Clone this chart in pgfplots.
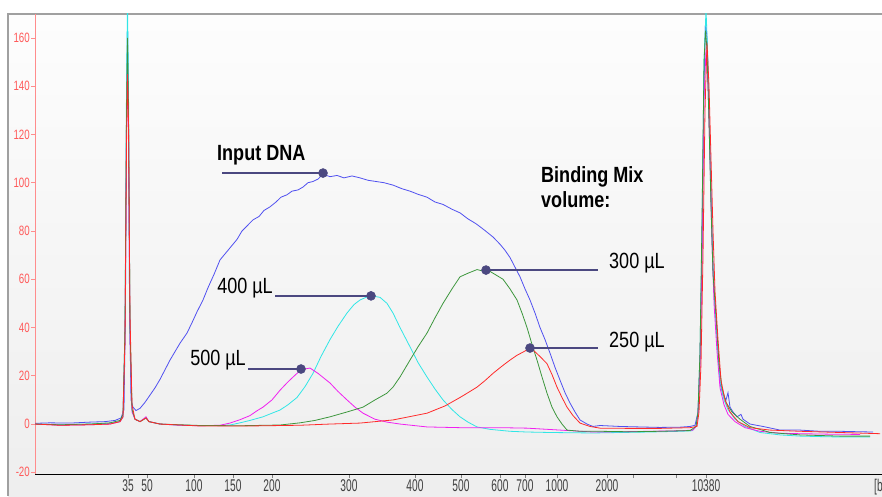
\documentclass[border=0pt]{standalone}
\usepackage{fontspec}
\setmainfont{Liberation Sans}
\usepackage{pgfplots}
\pgfplotsset{compat=1.18}

\definecolor{bgtop}{HTML}{FDFDFD}
\definecolor{bgbot}{HTML}{EEEEEE}
\definecolor{framegray}{HTML}{A0A0A0}
\definecolor{axpink}{HTML}{FF8C8C}
\definecolor{ticklab}{HTML}{FF5A5A}
\definecolor{cblue}{HTML}{5050F0}
\definecolor{ccyan}{HTML}{30E6E6}
\definecolor{cmag}{HTML}{F020F0}
\definecolor{cgreen}{HTML}{3C963C}
\definecolor{cred}{HTML}{FF2A2A}
\definecolor{annot}{HTML}{4B4880}

% x is in pixel position of the bp scale, y in fluorescence units
\newcommand\xl[1]{\scalebox{0.6}[1]{#1}}
\newcommand\yl[1]{\scalebox{0.72}[1]{#1}}
\newcommand\lab[1]{\scalebox{0.82}[1]{\fontsize{22}{22}\selectfont #1}}

\begin{document}
\begin{tikzpicture}[x=1pt,y=1pt]
\useasboundingbox (0,0) rectangle (882,496);
\fill[white] (0,0) rectangle (882,496);
\shade[top color=bgtop, bottom color=bgbot] (8,0) rectangle (882,482);
\draw[framegray, line width=1.6pt] (8,0) -- (8,482) -- (882,482);

\begin{axis}[
    at={(35pt,482pt)}, anchor=north west,
    scale only axis, width=847pt, height=460pt,
    xmin=35, xmax=882, ymin=-20.7, ymax=169.9,
    axis x line*=bottom, axis y line*=left,
    axis line style={-},
    x axis line style={black, line width=0.8pt},
    y axis line style={axpink, line width=0.8pt},
    tick align=outside, major tick length=4pt,
    xtick style={gray, line width=0.6pt},
    ytick style={axpink, line width=0.6pt},
    xtick={128,147,194,233,272,349,415,461,500,525,557,607,633,676,706},
    xticklabels={\xl{35},\xl{50},\xl{100},\xl{150},\xl{200},\xl{300},\xl{400},\xl{500},\xl{600},\xl{700},\xl{1000},\xl{2000},,,\xl{10380}},
    ytick={-20,0,20,40,60,80,100,120,140,160},
    yticklabels={\yl{-20},\yl{0},\yl{20},\yl{40},\yl{60},\yl{80},\yl{100},\yl{120},\yl{140},\yl{160}},
    xticklabel style={font=\fontsize{17}{17}\selectfont, text=darkgray, inner sep=0pt, yshift=-1pt},
    yticklabel style={font=\fontsize{13.5}{13.5}\selectfont, text=ticklab, inner sep=1pt},
    every axis plot/.append style={line width=0.8pt},
]
% Input DNA
\addplot[cblue] coordinates {
(35,0.3) (50,0.5) (70,0.4) (90,0.8) (105,1) (115,1.5) (121,2.5) (124,6) (125.5,50)
(126.5,130) (127.5,166) (128.5,130) (129.5,50) (131,10) (133,7) (136,5.6) (140,6.5)
(145,9) (150,12) (155,15) (160,18.5) (165,22.5) (170,26.5) (175,30) (180,33.5)
(187,37.7) (192,42) (197,46.5) (203,51.4) (208,56.5) (214,62) (220,68) (226,71)
(231,73.5) (237,76.5) (242,80) (248,82.5) (253,84.6) (259,86) (264,88.5) (270,90)
(276,92) (281,94) (287,95) (292,96.5) (298,97) (303,98.2) (308,100) (313,100.5)
(318,101.5) (323,103.5) (330,102.5) (337,103) (344,102) (352,102.8) (360,102)
(368,101) (376,100.5) (384,100) (393,99) (402,97.5) (410,96.5) (418,95.2) (427,94)
(435,92) (443,91) (452,89) (460,87.5) (468,85) (476,83) (484,80.5) (493,77.5)
(500,74.5) (505,72) (510,69) (515,65) (520,61) (525,56) (530,51.4) (535,46)
(540,40) (545,35) (550,29.4) (555,23.5) (560,18.2) (565,13) (570,8.7) (575,5)
(580,1.7) (587,0) (593,-1) (600,-0.6) (620,-1) (640,-1.2) (660,-1.4) (680,-1.3)
(690,-1) (695,-0.5) (698,5) (700,25) (702,70) (704,140) (705.5,167) (707,160)
(709,130) (711,95) (713,65) (715,50) (717,37.7) (720,17) (723,12) (726,10) (728,13)
(730,7) (733,5) (737,3) (741,4) (743,2) (750,0) (763,-1) (780,-2.5) (800,-2.5)
(820,-3) (840,-3) (860,-3.2) (873,-3.3)
};
% 400 uL
\addplot[ccyan] coordinates {
(35,0) (60,-0.3) (90,0) (110,0.3) (120,1) (123,3) (125,40) (126.5,140) (127.5,175)
(128.5,140) (130,40) (132,6) (135,2) (140,1) (146,2.5) (149,1) (160,0) (180,-0.5)
(200,-0.6) (220,-0.6) (230,-0.4) (240,0.5) (250,1.5) (263,3) (272,4.5) (280,5.8)
(288,8) (297,11) (305,15.5) (313,21) (321,28) (330,35) (338,40.5) (347,46)
(354,49.5) (360,51.4) (366,52.5) (373,53) (380,52.5) (387,50) (393,46) (400,40)
(405,36) (410,32) (418,25.5) (427,19.5) (435,14.5) (443,10) (452,6) (460,3)
(468,0.8) (477,-1.2) (490,-2.2) (510,-3) (527,-3.3) (550,-3.5) (570,-3.6)
(593,-3.7) (620,-3.5) (650,-3.3) (680,-3) (692,-2.8) (696,-1) (698,5) (700,30)
(702,80) (704,150) (706,172) (708,150) (710,115) (712,80) (714,55) (717,35)
(720,18) (724,10) (728,6) (735,2) (745,-1) (760,-3.5) (780,-4.5) (800,-5)
(830,-5.3) (870,-5.4)
};
% 500 uL
\addplot[cmag] coordinates {
(35,0) (60,-0.5) (90,-0.3) (110,0) (120,1) (123,3) (125,35) (126.5,120) (127.5,150)
(128.5,120) (130,35) (132,5) (135,2) (140,1) (146,3) (149,1) (160,0) (180,-0.5)
(200,-0.7) (220,-0.5) (230,0.4) (240,1.8) (250,3.5) (257,5.5) (263,7) (272,10)
(280,14) (288,17.5) (297,21) (303,22.7) (310,23.2) (318,21) (324,19) (330,17)
(338,13.5) (347,10) (355,7) (363,4.5) (375,2) (387,0.8) (400,0) (427,-1.2)
(460,-1.5) (500,-1.5) (527,-1.7) (560,-2.5) (593,-3.3) (620,-3.2) (650,-3)
(680,-2.8) (693,-2.5) (696,-1) (698,4) (700,25) (702,70) (704,135) (706,155)
(708,140) (710,110) (712,75) (714,50) (717,30) (720,15) (724,8) (728,4) (735,1)
(745,-1.5) (760,-3) (780,-3.8) (800,-4) (830,-4.2) (860,-4.3)
};
% 300 uL
\addplot[cgreen] coordinates {
(35,0) (60,-0.3) (90,0) (110,0.5) (120,1.5) (123,4) (125,40) (126.5,130) (127.5,160)
(128.5,130) (130,40) (132,6) (135,2) (140,1) (146,2.5) (149,1) (160,0) (200,-0.6)
(240,-0.7) (280,-0.4) (300,0.5) (315,1.5) (330,3) (347,5) (363,7) (375,10)
(387,12.8) (393,15.3) (400,19.5) (410,26.5) (418,32) (427,37.7) (435,44) (443,50)
(452,56) (460,61) (468,62.5) (477,64) (482,63.5) (487,64) (495,62) (503,60)
(510,56) (517,51.4) (522,46) (527,40) (532,33) (537,26.5) (542,19.5) (547,12.8)
(552,7) (557,3) (562,0) (567,-2.5) (580,-3) (600,-3) (630,-3.2) (660,-3)
(690,-2.7) (696,-1) (698,5) (700,30) (702,85) (704,150) (705.5,163) (707,155)
(709,125) (711,90) (713,62) (716,45) (719,25) (722,15) (726,9) (732,5) (740,2)
(750,-1) (770,-3.5) (800,-4.5) (840,-5) (870,-5)
};
% 250 uL
\addplot[cred] coordinates {
(35,0) (60,-0.5) (90,-0.3) (110,0) (120,1) (123,3) (125,35) (126.5,115) (127.5,145)
(128.5,125) (130,45) (132,8) (135,2) (140,1) (146,2.5) (149,1) (160,0) (200,-0.8)
(250,-0.8) (300,-0.5) (330,0) (360,0.4) (393,1.7) (427,4.5) (445,7.5) (460,11)
(468,13) (477,15.3) (485,18) (493,21) (502,24) (510,26.5) (517,28.5) (523,29.8)
(528,31) (533,30.7) (540,28) (547,25) (552,20.5) (557,15.3) (562,11) (567,7)
(573,3.5) (580,0.4) (590,-1) (600,-1.7) (630,-1.8) (660,-1.8) (690,-1.5) (697,-1)
(699,5) (701,25) (703,70) (705,130) (707,158) (709,140) (711,110) (713,80)
(715,55) (718,35) (721,18) (725,10) (730,5) (738,1) (750,-1.5) (770,-2.5)
(800,-3) (840,-3.5) (880,-4)
};

% call-out lines with their dots
\pgfplotsset{annot line/.style={annot, line width=2.2pt, mark=*, mark size=4.5pt,
    mark options={fill=annot, draw=annot, line width=0.5pt}}}
\addplot[annot line, mark indices={2}] coordinates {(222,104.0) (323,104.0)};
\addplot[annot line, mark indices={2}] coordinates {(275,53.1) (371,53.1)};
\addplot[annot line, mark indices={2}] coordinates {(248,22.8) (301,22.8)};
\addplot[annot line, mark indices={1}] coordinates {(486,63.8) (598,63.8)};
\addplot[annot line, mark indices={1}] coordinates {(530,31.5) (598,31.5)};

\node[anchor=west, inner sep=0pt] at (axis cs:217,111.5) {\lab{\bfseries Input DNA}};
\node[anchor=east, inner sep=0pt] at (axis cs:273,56.4) {\lab{400 µL}};
\node[anchor=east, inner sep=0pt] at (axis cs:246,26.5) {\lab{500 µL}};
\node[anchor=west, inner sep=0pt] at (axis cs:609,66.7) {\lab{300 µL}};
\node[anchor=west, inner sep=0pt] at (axis cs:609,34.0) {\lab{250 µL}};
\node[anchor=west, inner sep=0pt] at (axis cs:541,102.4) {\lab{\bfseries Binding Mix}};
\node[anchor=west, inner sep=0pt] at (axis cs:541,92.9) {\lab{\bfseries volume:}};
\end{axis}
\node[anchor=north west, inner sep=0pt, text=darkgray, font=\fontsize{17}{17}\selectfont] at (874,17) {\xl{[bp]}};
\end{tikzpicture}
\end{document}
